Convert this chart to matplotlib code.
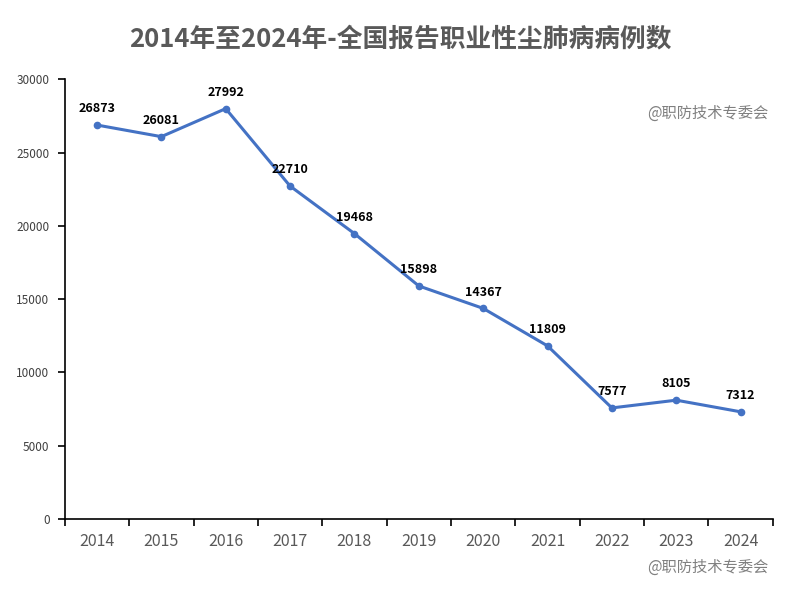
import matplotlib
matplotlib.use("Agg")
import matplotlib.pyplot as plt
import numpy as np

plt.rcParams['font.family'] = ['Noto Sans CJK SC', 'DejaVu Sans']

years = ["2014", "2015", "2016", "2017", "2018", "2019", "2020", "2021", "2022", "2023", "2024"]
cases = [26873, 26081, 27992, 22710, 19468, 15898, 14367, 11809, 7577, 8105, 7312]
yticks = [0, 5000, 10000, 15000, 20000, 25000, 30000]
title = "2014年至2024年-全国报告职业性尘肺病病例数"
watermark = "@职防技术专委会"

fig = plt.figure(figsize=(8, 6), dpi=100)
ax = fig.add_axes([0.081, 0.135, 0.885, 0.733])

x = np.arange(len(years))
ax.plot(x, cases, color="#4472C4", lw=2.2, marker="o", ms=4.5, zorder=3)
for xi, v in zip(x, cases):
    ax.annotate(str(v), (xi, v), xytext=(0, 7), textcoords="offset points",
                ha="center", va="bottom", fontsize=9, fontweight="bold", color="black")

ax.set_xlim(-0.5, len(years) - 0.5)
ax.set_ylim(0, 30000)
ax.set_yticks(yticks)
ax.set_yticklabels([str(t) for t in yticks], fontsize=8.5, color="#404040")
ax.set_xticks(np.arange(-0.5, len(years), 1.0))
ax.set_xticklabels([])
ax.set_xticks(x, minor=True)
ax.set_xticklabels(years, minor=True, fontsize=11.5, color="#595959")
ax.tick_params(axis="x", which="minor", length=0, pad=10)
ax.tick_params(axis="x", which="major", length=5, direction="out", width=1.2)
ax.tick_params(axis="y", length=5, direction="out", width=1.2, pad=6)
for s in ["top", "right"]:
    ax.spines[s].set_visible(False)
for s in ["left", "bottom"]:
    ax.spines[s].set_linewidth(1.2)
    ax.spines[s].set_color("black")

fig.text(0.5, 0.935, title, ha="center", va="center", fontsize=18.5,
         fontweight="bold", color="#595959")
fig.text(0.96, 0.812, watermark, ha="right", va="center", fontsize=11, color="#808080")
fig.text(0.96, 0.055, watermark, ha="right", va="center", fontsize=11, color="#808080")

fig.savefig("out.png", dpi=100)
